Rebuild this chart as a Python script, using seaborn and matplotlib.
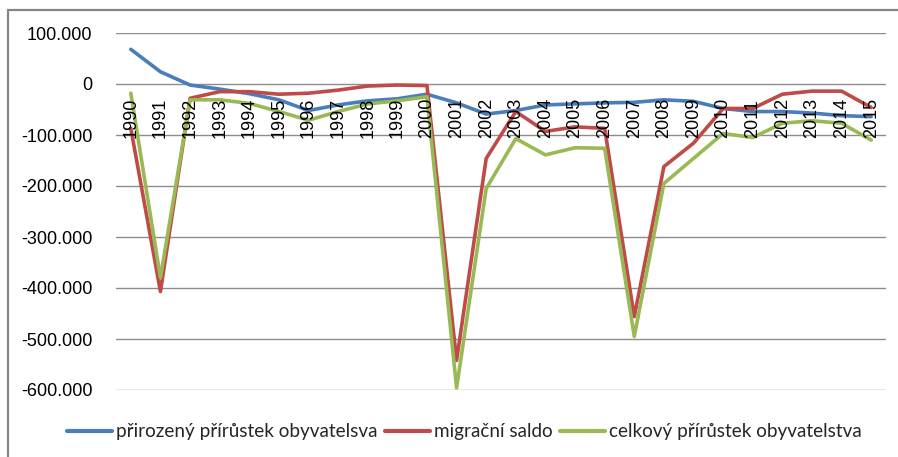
import matplotlib
matplotlib.use("Agg")
import matplotlib.pyplot as plt
from matplotlib.ticker import FuncFormatter
from matplotlib.patches import Rectangle
import pandas as pd
import seaborn as sns

years = [str(y) for y in range(1990, 2016)]

# values (persons)
prirozeny = [68000, 24000, -2000, -10000, -19000, -31000, -52000, -41000, -33000, -29000,
             -20000, -37000, -59000, -52000, -41000, -39000, -37000, -36000, -31000, -34000,
             -48000, -54000, -54000, -57000, -62000, -64000]
migracni = [-87000, -407000, -28000, -15000, -15000, -20000, -18000, -12000, -4000, -2000,
            -3000, -542000, -146000, -54000, -93000, -84000, -87000, -456000, -162000, -116000,
            -48000, -48000, -20000, -14000, -14000, -46000]
celkovy = [-18000, -380000, -31000, -31000, -38000, -54000, -71000, -54000, -39000, -33000,
           -25000, -596000, -205000, -107000, -139000, -125000, -126000, -495000, -195000, -146000,
           -97000, -105000, -77000, -72000, -77000, -110000]

series_names = ["přirozený přírůstek obyvatelsva", "migrační saldo", "celkový přírůstek obyvatelstva"]
colors = ["#4A7EBB", "#BE4B48", "#98B954"]
y_ticks = [100000, 0, -100000, -200000, -300000, -400000, -500000, -600000]

df = pd.DataFrame({
    "pos": list(range(len(years))) * 3,
    "value": prirozeny + migracni + celkovy,
    "series": [series_names[0]] * len(years) + [series_names[1]] * len(years) + [series_names[2]] * len(years),
})

sns.set_style("white")
plt.rcParams["font.family"] = ["Liberation Sans", "DejaVu Sans"]

fig = plt.figure(figsize=(8.98, 4.57), dpi=100)
ax = fig.add_axes([116 / 898, 1 - 390 / 457, 770 / 898, 357 / 457])

sns.lineplot(data=df, x="pos", y="value", hue="series", hue_order=series_names,
             palette=colors, linewidth=2.6, ax=ax, legend=False)

ax.set_xlim(-0.5, len(years) - 0.5)
ax.set_ylim(-600000, 100000)
ax.set_yticks(y_ticks)
ax.yaxis.set_major_formatter(FuncFormatter(lambda v, _: f"{int(v):,}".replace(",", ".")))
ax.tick_params(axis="y", length=0, pad=17, labelsize=13, colors="#000000")
ax.set_xticks([])
ax.grid(axis="y", color="#8C8C8C", linewidth=1.0)
ax.set_axisbelow(True)
for s in ax.spines.values():
    s.set_visible(False)
ax.set_xlabel("")
ax.set_ylabel("")

# category labels sit at the -100.000 line, rotated upward
for i, yr in enumerate(years):
    ax.text(i, -106000, yr, rotation=90, ha="center", va="bottom", fontsize=13, color="#000000")

# legend at the bottom
handles = [plt.Line2D([], [], color=c, linewidth=3.0) for c in colors]
fig.legend(handles, series_names, loc="center", bbox_to_anchor=(0.517, 1 - 432 / 457),
           ncol=3, frameon=False, handlelength=2.4, handletextpad=0.2, columnspacing=0.4,
           prop={"family": "Lato", "size": 13.6})

# chart area border (cut off at right and bottom)
fig.patches.append(Rectangle((8 / 898, -0.05), 1.0, 0.978 + 0.05, transform=fig.transFigure,
                             fill=False, edgecolor="#868686", linewidth=1.6))

fig.savefig("out.png", dpi=100)
